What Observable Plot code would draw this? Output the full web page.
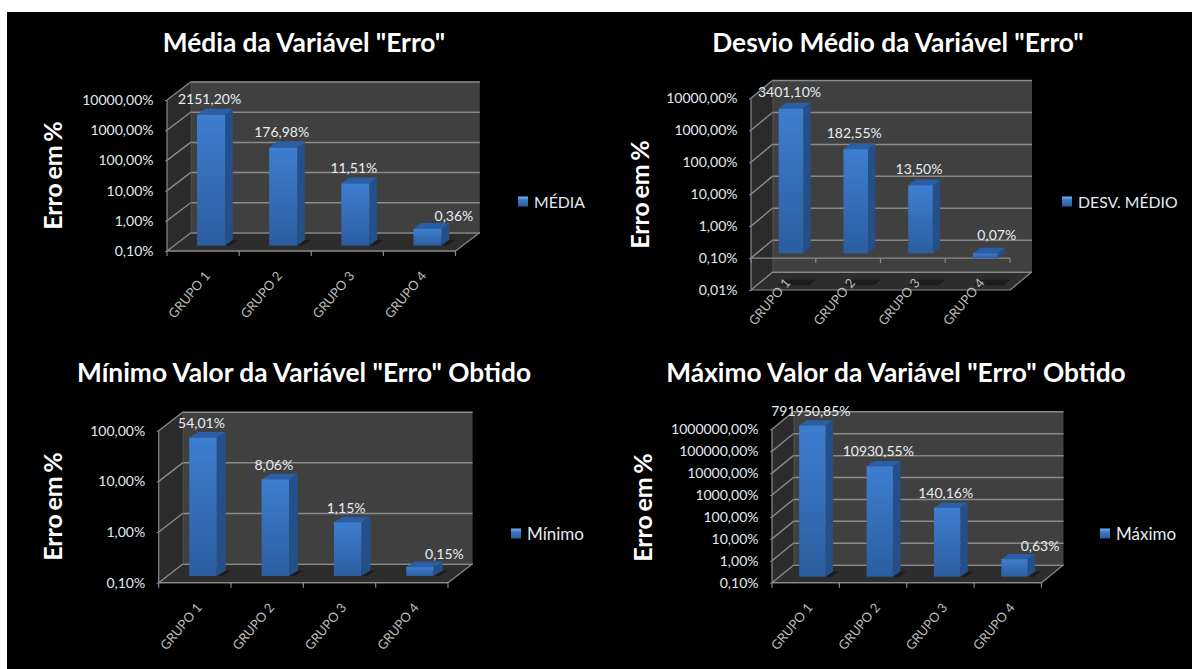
<!DOCTYPE html>
<html lang="pt">
<head>
<meta charset="utf-8">
<script src="https://cdn.jsdelivr.net/npm/d3@7"></script>
<script src="https://cdn.jsdelivr.net/npm/@observablehq/plot@0.6"></script>
<style>
  html, body { margin: 0; padding: 0; background: #fff; }
  #stage { position: absolute; left: 0; top: 0; width: 1192px; height: 669px; overflow: hidden; background: #fff; font-family: Lato, sans-serif; }
  #board { position: absolute; left: 7px; top: 12px; right: 0; bottom: 0; background: #000; }
  .slot { position: absolute; }
  .title { position: absolute; transform: translate(-50%, -50%); white-space: nowrap; color: #fff; font-weight: 700; font-size: 26.3px; }
  .legend { position: absolute; display: flex; align-items: center; gap: 6px; transform: translateY(-50%); color: #e4eaf2; white-space: nowrap; }
  .swatch { width: 10px; height: 10px; background: linear-gradient(#7fb0e6 0%, #3a78c9 35%, #2a5c9c 100%); }
  .ylab text { word-spacing: -2.5px; }
</style>
</head>
<body>
<div id="stage"><div id="board"></div></div>
<script>
// ---- data ----
const categories = ["GRUPO 1", "GRUPO 2", "GRUPO 3", "GRUPO 4"];
const mediaValues = [2151.20, 176.98, 11.51, 0.36];
const desvioValues = [3401.10, 182.55, 13.50, 0.07];
const minimoValues = [54.01, 8.06, 1.15, 0.15];
const maximoValues = [791950.85, 10930.55, 140.16, 0.63];
const mediaTicks = [0.1, 1, 10, 100, 1000, 10000];
const desvioTicks = [0.01, 0.1, 1, 10, 100, 1000, 10000];
const minimoTicks = [0.1, 1, 10, 100];
const maximoTicks = [0.1, 1, 10, 100, 1000, 10000, 100000, 1000000];
const yLabel = "Erro em %";
const crossing = 0.1;

// ---- layout of each panel (pixels on the page) ----
const panels = [
  { id: "a", title: 'Média da Variável "Erro"', titleAt: [304, 42], series: "MÉDIA", legendSize: 15.8, values: mediaValues, ticks: mediaTicks,
    slot: [7, 12, 589, 328], plot: [167, 455.5, 100, 251], depth: [24.3, -18.5], bar: 28, barShift: [8, -5.3], barDepth: [7.7, -6],
    last: [26, 3], yLabelAt: [53, 175], legendAt: [518, 201] },
  { id: "b", title: 'Desvio Médio da Variável "Erro"', titleAt: [898, 42], series: "DESV. MÉDIO", legendSize: 15.8, values: desvioValues, ticks: desvioTicks,
    slot: [596, 12, 596, 328], plot: [751, 1010, 98.3, 290], depth: [22, -18.3], bar: 24.6, barShift: [7.6, -4.7], barDepth: [7.3, -5.7],
    last: [11, -7], yLabelAt: [640, 194], legendAt: [1062, 201] },
  { id: "c", title: 'Mínimo Valor da Variável "Erro" Obtido', titleAt: [304, 372], series: "Mínimo", legendSize: 17, values: minimoValues, ticks: minimoTicks,
    slot: [7, 340, 589, 329], plot: [158.7, 448, 430.7, 582.7], depth: [24.6, -19], bar: 27.4, barShift: [8.1, -6.7], barDepth: [9, -5.6],
    last: [24, 1], yLabelAt: [53, 506], legendAt: [511, 533] },
  { id: "d", title: 'Máximo Valor da Variável "Erro" Obtido', titleAt: [896, 372], series: "Máximo", legendSize: 17, values: maximoValues, ticks: maximoTicks,
    slot: [596, 340, 596, 329], plot: [772, 1041.5, 429.3, 582.7], depth: [22, -18], bar: 26.4, barShift: [6.7, -6], barDepth: [7.5, -5.3],
    last: [25, 2], yLabelAt: [643, 507], legendAt: [1100, 533] }
];

const decimal = (v, digits = 2) => v.toFixed(digits).replace(".", ",") + "%";
const pts = (list) => list.map((p) => p.join(",")).join(" ");
const GRID = "#8a8a8a";

function wallsMark(p) {
  return (index, { y }, values, dim) => {
    const [dx, dy] = p.depth;
    const L = dim.marginLeft, R = dim.width - dim.marginRight, T = dim.marginTop, B = dim.height - dim.marginBottom;
    const g = d3.create("svg:g");
    const defs = g.append("defs");
    const grad = defs.append("linearGradient").attr("id", "front-" + p.id).attr("x1", 0).attr("x2", 0).attr("y1", 0).attr("y2", 1);
    grad.append("stop").attr("offset", "0%").attr("stop-color", "#3e7ed0");
    grad.append("stop").attr("offset", "100%").attr("stop-color", "#2b5e9f");
    g.append("polygon").attr("points", pts([[L + dx, T + dy], [R + dx, T + dy], [R + dx, B + dy], [L + dx, B + dy]])).attr("fill", "#404040");
    g.append("polygon").attr("points", pts([[L, T], [L + dx, T + dy], [L + dx, B + dy], [L, B]])).attr("fill", "#2b2b2b");
    g.append("polygon").attr("points", pts([[L, B], [R, B], [R + dx, B + dy], [L + dx, B + dy]])).attr("fill", "#2d2d2d");
    for (const t of p.ticks) {
      g.append("line").attr("x1", L).attr("x2", L + dx).attr("y1", y(t)).attr("y2", y(t) + dy)
        .attr("stroke", GRID).attr("stroke-width", 1.4);
    }
    g.append("line").attr("x1", R).attr("x2", R + dx).attr("y1", B).attr("y2", B + dy).attr("stroke", GRID).attr("stroke-width", 1.2);
    g.append("line").attr("x1", L + dx).attr("x2", L + dx).attr("y1", T + dy).attr("y2", B + dy).attr("stroke", "#555").attr("stroke-width", 1);
    return g.node();
  };
}

function shadowsMark(p) {
  return (index, { x }, values, dim) => {
    const [ox, oy] = p.barShift, [bx, by] = p.barDepth;
    const B = dim.height - dim.marginBottom;
    const g = d3.create("svg:g").attr("fill", "#1c1c1c");
    for (const c of categories) {
      const x0 = x(c) + ox, x1 = x0 + x.bandwidth() + 6;
      g.append("polygon").attr("points", pts([[x0, B + oy], [x1, B + oy], [x1 + bx, B + oy + by], [x0 + bx, B + oy + by]]));
    }
    return g.node();
  };
}

function depthFacesMark(p) {
  return (index, { x, y }) => {
    const [ox, oy] = p.barShift, [bx, by] = p.barDepth;
    const g = d3.create("svg:g");
    categories.forEach((c, i) => {
      const x0 = x(c) + ox, x1 = x0 + x.bandwidth();
      const a = y(p.values[i]) + oy, b = y(crossing) + oy;
      const up = Math.min(a, b), low = Math.max(a, b);
      g.append("polygon").attr("fill", "#254f88")
        .attr("points", pts([[x1, up], [x1 + bx, up + by], [x1 + bx, low + by], [x1, low]]));
      g.append("polygon").attr("fill", "#2a5ea6")
        .attr("points", pts([[x0, up], [x1, up], [x1 + bx, up + by], [x0 + bx, up + by]]));
    });
    return g.node();
  };
}

function axisLinesMark(p) {
  return (index, { x, y }, values, dim) => {
    const L = dim.marginLeft, R = dim.width - dim.marginRight, B = dim.height - dim.marginBottom;
    const step = x.step(), start = x(categories[0]) - (step - x.bandwidth()) / 2;
    const y0 = y(crossing);
    const g = d3.create("svg:g").attr("stroke", GRID).attr("stroke-width", 1.2);
    g.append("line").attr("x1", L).attr("x2", R).attr("y1", B).attr("y2", B);
    g.append("line").attr("x1", L).attr("x2", R).attr("y1", y0).attr("y2", y0);
    g.append("line").attr("x1", L).attr("x2", L).attr("y1", dim.marginTop).attr("y2", B);
    for (let i = 0; i <= categories.length; i++) {
      g.append("line").attr("x1", start + i * step).attr("x2", start + i * step).attr("y1", y0).attr("y2", y0 + 5);
    }
    return g.node();
  };
}

function drawPanel(p) {
  const [left, top, width, height] = p.slot;
  const [L, R, T, B] = p.plot;
  const rows = categories.map((c, i) => ({ c, v: p.values[i] }));
  const step = (R - L) / categories.length;
  const inner = 1 - p.bar / step;
  const [dx, dy] = p.depth;
  const [ox, oy] = p.barShift;
  const aboveFloor = ((B - T) / (Math.log10(p.ticks.at(-1)) - Math.log10(p.ticks[0]))) * Math.log10(crossing / p.ticks[0]);

  const chart = Plot.plot({
    width, height,
    marginLeft: L - left, marginRight: left + width - R, marginTop: T - top, marginBottom: top + height - B,
    style: { background: "transparent", fontFamily: "Lato, sans-serif", color: "#fff", overflow: "visible" },
    x: { type: "band", domain: categories, paddingInner: inner, paddingOuter: inner / 2, round: false, label: null },
    y: { type: "log", domain: [p.ticks[0], p.ticks.at(-1)], label: null },
    marks: [
      wallsMark(p),
      Plot.ruleY(p.ticks, { dx, dy, stroke: GRID, strokeWidth: 1.5 }),
      shadowsMark(p),
      axisLinesMark(p),
      depthFacesMark(p),
      Plot.barY(rows, { x: "c", y1: () => crossing, y2: "v", dx: ox, dy: oy, fill: `url(#front-${p.id})` }),
      Plot.axisY({ ticks: p.ticks, tickFormat: (d) => decimal(d), tickSize: 2, tickPadding: 12, fontSize: 14, stroke: GRID, fill: "#e2e8f0", label: null }),
      Plot.axisX({ tickSize: 0, tickPadding: 22, tickRotate: -50, fontSize: 13, fill: "#bcbcbc", label: null, dx: 4, dy: -aboveFloor }),
      Plot.text(rows.slice(0, 3), { x: "c", y: "v", text: (d) => decimal(d.v), dx: ox - 2, dy: -21, fontSize: 14, fill: "#e8edf2" }),
      Plot.text(rows.slice(3), { x: "c", y: "v", text: (d) => decimal(d.v), dx: ox + p.last[0], dy: -21 + p.last[1], fontSize: 14, fill: "#e8edf2" }),
      Plot.text([yLabel], { className: "ylab", frameAnchor: "left", textAnchor: "middle", rotate: -90, dx: p.yLabelAt[0] - L, dy: p.yLabelAt[1] - (T + B) / 2, fontSize: 25, fontWeight: 700, fill: "#fff" })
    ]
  });
  chart.classList.add("slot");
  chart.style.left = left + "px";
  chart.style.top = top + "px";
  const stage = document.getElementById("stage");
  stage.appendChild(chart);

  const title = document.createElement("div");
  title.className = "title";
  title.textContent = p.title;
  title.style.left = p.titleAt[0] + "px";
  title.style.top = p.titleAt[1] + "px";
  stage.appendChild(title);

  const legend = document.createElement("div");
  legend.className = "legend";
  legend.style.left = p.legendAt[0] + "px";
  legend.style.top = p.legendAt[1] + "px";
  legend.style.fontSize = p.legendSize + "px";
  const swatch = document.createElement("span");
  swatch.className = "swatch";
  const name = document.createElement("span");
  name.textContent = p.series;
  legend.append(swatch, name);
  stage.appendChild(legend);
}

panels.forEach(drawPanel);
</script>
</body>
</html>
